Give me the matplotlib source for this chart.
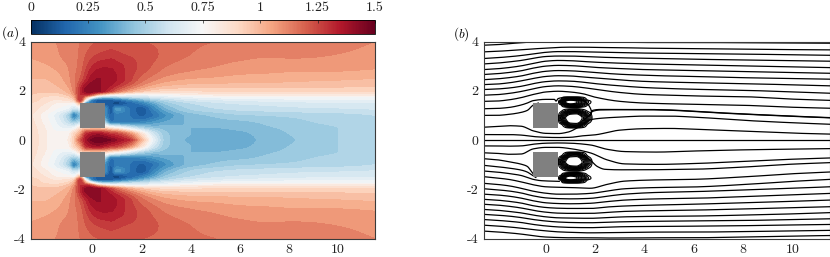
import numpy as np
import matplotlib
matplotlib.use("Agg")
import matplotlib.pyplot as plt
from matplotlib.cm import ScalarMappable
from matplotlib.colors import Normalize
from matplotlib.patches import Rectangle

plt.rcParams['font.family'] = ['cmr10', 'DejaVu Serif']
plt.rcParams['mathtext.fontset'] = 'cm'
plt.rcParams['axes.unicode_minus'] = False

# ---------- panel (a): mean speed read from the colour field (upper half, y >= 0) ----------
speed_x = [-2.5,-2,-1.5,-1,-.75,-.5,-.25,0,.25,.5,.75,1,1.5,2,2.5,3,4,5,6,7,8,10,11.5]
speed_y = [0,.25,.5,.75,1,1.25,1.5,1.6,1.75,1.85,2,2.5,3,3.5,4]
row_00 = [.9,.82,.76,.8,.95,1.2,1.38,1.47,1.5,1.48,1.45,1.4,1.3,1.0,.68,.47,.39,.38,.38,.41,.44,.5,.52]
row_25 = [.89,.82,.76,.78,.9,1.05,1.3,1.35,1.37,1.33,1.28,1.25,1.1,.85,.6,.46,.4,.39,.39,.42,.45,.5,.53]
row_50 = [.88,.81,.73,.68,.7,.85,.9,.9,.9,.88,.8,.75,.62,.5,.44,.42,.4,.4,.41,.44,.46,.5,.53]
row_75 = [.87,.79,.7,.55,.45,.5,.5,.5,.5,.45,.2,.22,.22,.24,.3,.35,.41,.43,.44,.46,.48,.52,.54]
row_100 = [.86,.78,.68,.5,.25,.4,.4,.4,.4,.3,.15,.22,.2,.14,.2,.3,.42,.46,.49,.5,.51,.53,.55]
row_125 = [.88,.82,.75,.68,.55,.6,.5,.4,.4,.3,.12,.32,.2,.12,.25,.38,.5,.54,.56,.57,.58,.59,.6]
row_150 = [.9,.86,.8,.78,.78,1.0,.3,.2,.12,.1,.1,.08,.16,.24,.36,.47,.55,.59,.61,.62,.63,.64,.64]
row_160 = [.92,.88,.84,.84,.92,1.25,.6,.2,.12,.12,.12,.14,.24,.34,.45,.52,.6,.63,.65,.66,.67,.68,.68]
row_175 = [.94,.9,.88,.92,1.02,1.3,1.05,.75,.55,.48,.48,.5,.55,.58,.62,.66,.7,.73,.74,.75,.75,.75,.75]
row_185 = [.95,.93,.92,.97,1.07,1.3,1.3,1.2,1.0,.9,.82,.78,.74,.72,.74,.76,.8,.82,.83,.83,.83,.83,.83]
row_200 = [.97,.96,.97,1.02,1.12,1.3,1.42,1.44,1.42,1.35,1.27,1.18,1.05,.97,.92,.9,.9,.91,.91,.91,.91,.91,.91]
row_250 = [1.0,1.0,1.02,1.08,1.14,1.2,1.3,1.38,1.4,1.4,1.38,1.35,1.27,1.18,1.12,1.08,1.05,1.04,1.03,1.03,1.02,1.01,1.0]
row_300 = [1.03,1.04,1.06,1.1,1.13,1.17,1.24,1.3,1.33,1.34,1.34,1.32,1.28,1.23,1.19,1.15,1.12,1.1,1.08,1.07,1.07,1.07,1.06]
row_350 = [1.06,1.07,1.09,1.12,1.13,1.16,1.2,1.23,1.25,1.26,1.27,1.26,1.24,1.23,1.21,1.18,1.15,1.13,1.12,1.11,1.11,1.1,1.09]
row_400 = [1.08,1.08,1.1,1.12,1.13,1.15,1.17,1.19,1.2,1.21,1.21,1.21,1.2,1.2,1.19,1.18,1.16,1.15,1.14,1.13,1.12,1.11,1.1]
speed_rows = [row_00,row_25,row_50,row_75,row_100,row_125,row_150,row_160,row_175,row_185,row_200,row_250,row_300,row_350,row_400]

cbar_ticks = [0,.25,.5,.75,1,1.25,1.5]
cbar_labels = ['0','0.25','0.5','0.75','1','1.25','1.5']
x_ticks = [0,2,4,6,8,10]
y_ticks = [-4,-2,0,2,4]
y_tick_labels = ['-4','-2','0','2','4']
block_centres = [1.0,-1.0]

# ---------- panel (b): streamlines ----------
line_x = [-2.5,-2,-1.5,-1,-.5,0,.5,1,1.5,2,3,4,5,6,8,10,11.5]
upper_lines = [
 [3.85,3.87,3.91,3.95,3.98,3.99,3.99,3.98,3.97,3.97,3.97,3.96,3.96,3.96,3.95,3.94,3.93],
 [3.58,3.6,3.63,3.66,3.7,3.73,3.76,3.77,3.77,3.76,3.75,3.73,3.72,3.71,3.69,3.67,3.66],
 [3.31,3.34,3.38,3.43,3.5,3.56,3.59,3.59,3.58,3.57,3.55,3.53,3.52,3.51,3.49,3.46,3.44],
 [3.09,3.12,3.17,3.23,3.32,3.39,3.41,3.41,3.39,3.37,3.34,3.32,3.3,3.28,3.25,3.22,3.2],
 [2.86,2.89,2.94,3.01,3.11,3.2,3.23,3.22,3.19,3.16,3.12,3.09,3.07,3.05,3.01,2.97,2.94],
 [2.66,2.69,2.74,2.81,2.92,3.0,3.03,3.02,2.99,2.95,2.9,2.86,2.84,2.82,2.78,2.74,2.71],
 [2.45,2.48,2.53,2.6,2.71,2.79,2.82,2.81,2.78,2.74,2.67,2.63,2.6,2.58,2.53,2.5,2.47],
 [2.25,2.27,2.32,2.4,2.5,2.58,2.61,2.6,2.56,2.52,2.44,2.38,2.35,2.33,2.29,2.24,2.2],
 [2.05,2.07,2.11,2.18,2.29,2.37,2.4,2.39,2.35,2.29,2.2,2.13,2.09,2.06,2.02,1.95,1.9],
 [1.82,1.84,1.89,1.97,2.08,2.17,2.2,2.18,2.13,2.06,1.93,1.85,1.82,1.79,1.76,1.66,1.61],
 [1.57,1.58,1.63,1.72,1.85,1.95,1.98,1.95,1.88,1.74,1.57,1.5,1.47,1.45,1.41,1.33,1.29],
 [.22,.22,.22,.2,.14,.11,.1,.11,.17,.21,.4,.46,.47,.44,.36,.28,.24],
]
lower_x = [-2.5,-2,-1.5,-1,-.5,0,.5,1,1.8,2.5,3.2,4.5,5.9,8,10,11.5]
lower_lines = [
 [-.24,-.24,-.25,-.24,-.17,-.13,-.12,-.13,-.2,-.38,-.47,-.49,-.45,-.4,-.37,-.35],
 [-.52,-.54,-.58,-.57,-.36,-.3,-.3,-.35,-.52,-.81,-.97,-.99,-.96,-.87,-.78,-.73],
 [-1.49,-1.54,-1.6,-1.7,-1.82,-1.9,-1.92,-1.93,-1.96,-1.8,-1.67,-1.62,-1.6,-1.5,-1.37,-1.3],
 [-1.76,-1.8,-1.86,-1.96,-2.08,-2.16,-2.2,-2.2,-2.17,-2.07,-1.98,-1.93,-1.91,-1.81,-1.68,-1.6],
 [-1.98,-2.02,-2.07,-2.15,-2.27,-2.35,-2.38,-2.39,-2.37,-2.28,-2.2,-2.13,-2.1,-2.03,-1.96,-1.9],
 [-2.2,-2.23,-2.28,-2.36,-2.47,-2.55,-2.58,-2.59,-2.57,-2.5,-2.44,-2.39,-2.37,-2.3,-2.22,-2.17],
 [-2.41,-2.44,-2.49,-2.56,-2.67,-2.74,-2.77,-2.78,-2.78,-2.72,-2.68,-2.64,-2.61,-2.55,-2.49,-2.44],
 [-2.61,-2.64,-2.69,-2.76,-2.86,-2.93,-2.97,-2.98,-2.98,-2.94,-2.9,-2.87,-2.85,-2.8,-2.75,-2.71],
 [-2.82,-2.85,-2.9,-2.96,-3.05,-3.12,-3.16,-3.17,-3.18,-3.15,-3.12,-3.1,-3.09,-3.05,-3.0,-2.95],
 [-3.02,-3.05,-3.09,-3.15,-3.23,-3.29,-3.33,-3.35,-3.36,-3.34,-3.32,-3.3,-3.29,-3.27,-3.23,-3.2],
 [-3.23,-3.26,-3.3,-3.35,-3.43,-3.49,-3.53,-3.55,-3.56,-3.54,-3.52,-3.51,-3.5,-3.48,-3.45,-3.43],
 [-3.46,-3.49,-3.53,-3.58,-3.64,-3.69,-3.73,-3.75,-3.77,-3.76,-3.75,-3.74,-3.74,-3.72,-3.69,-3.67],
 [-3.7,-3.73,-3.77,-3.82,-3.89,-3.94,-3.96,-3.97,-3.97,-3.98,-3.98,-3.97,-3.97,-3.94,-3.9,-3.88],
]
centre_x = [-2.5,11.5]
centre_y = [0,0]

# lines that do not span the full width: (x, y) read point by point
top_sep_x = [-2.5,-2,-1.5,-1,-.75,-.5,0,.35,.42,.5,.8,1.2,1.6,1.78,1.85,1.8,1.9,2.2,3,4,5,6,7,8,10,11.5]
top_sep_y = [1.27,1.28,1.32,1.42,1.5,1.6,1.65,1.65,1.58,1.68,1.73,1.7,1.55,1.35,1.15,1.0,1.2,1.24,1.24,1.24,1.22,1.17,1.11,1.06,.97,.91]
wake2_x = [1.5,1.75,1.9,2.2,3,4,5,6,7,8,10,11.5]
wake2_y = [.78,.98,1.16,1.22,1.23,1.23,1.21,1.16,1.1,1.05,.96,.9]
upper_in_x = [-2.5,-2,-1.5,-1,-.75,-.5,-.3]
upper_in_y = [1.0,1.0,1.04,1.12,1.2,1.42,1.5]
upper_mid_x = [-2.5,-2,-1.5,-1,-.5,0,.5,.9,1.2,1.5,1.8,2.2,3,4,5,6,8,10,11.5]
upper_mid_y = [.52,.55,.58,.56,.37,.27,.26,.32,.45,.65,.82,.88,.93,.97,.97,.93,.8,.7,.64]
lower_c1_x = [-2.5,-2,-1.5,-1,-.75,-.6,-.45]
lower_c1_y = [-.76,-.8,-.88,-.98,-1.07,-1.25,-1.45]
lower_c2_x = [-2.5,-2,-1.5,-1,-.75,-.55,-.4]
lower_c2_y = [-1.03,-1.08,-1.14,-1.22,-1.3,-1.43,-1.52]
lower_c3_x = [-2.5,-2,-1.5,-1,-.75,-.5,-.2,.2,.55]
lower_c3_y = [-1.26,-1.3,-1.36,-1.44,-1.52,-1.6,-1.65,-1.67,-1.68]
lower_out_x = [1.2,1.5,1.8,2.1,2.4,3,4,5,5.9,8,10,11.5]
lower_out_y = [-.55,-.62,-.81,-1.08,-1.19,-1.21,-1.21,-1.2,-1.19,-1.1,-.98,-.92]

# recirculation bubble: stream-function table read from the closed loops
bub_x = [.5,.6,.75,1,1.25,1.5,1.75,1.9]
bub_y = [.48,.6,.75,.9,1.05,1.2,1.3,1.4,1.55,1.65,1.76]
bub_rows = [
 [0,0,0,0,0,0,0,0],
 [0,0,.1,.5,.55,.2,0,0],
 [0,.15,.5,.86,.88,.6,.1,0],
 [0,.28,.66,.95,.98,.72,.28,0],
 [0,.12,.42,.74,.77,.5,.12,0],
 [0,.01,.08,.24,.28,.1,.01,0],
 [0,0,0,0,0,0,0,0],
 [0,.01,.18,.42,.42,.18,.01,0],
 [0,.2,.66,1.0,.78,.46,.1,0],
 [0,.02,.3,.55,.5,.2,0,0],
 [0,0,0,0,0,0,0,0],
]
bub_levels = [.04,.11,.19,.27,.35,.43,.51,.59,.67,.75]


def pchip(x, y, xi):
    x, y, xi = map(lambda a: np.asarray(a, float), (x, y, xi))
    h = np.diff(x); d = np.diff(y) / h
    m = np.zeros_like(y)
    m[0], m[-1] = d[0], d[-1]
    for k in range(1, len(y) - 1):
        if d[k-1] * d[k] > 0:
            w1 = 2*h[k] + h[k-1]; w2 = h[k] + 2*h[k-1]
            m[k] = (w1 + w2) / (w1/d[k-1] + w2/d[k])
    i = np.clip(np.searchsorted(x, xi) - 1, 0, len(h) - 1)
    t = (xi - x[i]) / h[i]
    return ((2*t**3-3*t**2+1)*y[i] + (t**3-2*t**2+t)*h[i]*m[i]
            + (-2*t**3+3*t**2)*y[i+1] + (t**3-t**2)*h[i]*m[i+1])


def grid_fine(xs, ys, rows, xf, yf):
    z = np.asarray(rows, float)
    a = np.array([pchip(xs, r, xf) for r in z])
    return np.array([pchip(ys, a[:, j], yf) for j in range(len(xf))]).T


def curve(x, y):
    x = np.asarray(x, float); y = np.asarray(y, float)
    t = np.r_[0, np.cumsum(np.hypot(np.diff(x), np.diff(y)))]
    tt = np.linspace(0, t[-1], 600)
    return pchip(t, x, tt), pchip(t, y, tt)


W, H = 830, 257
fig = plt.figure(figsize=(W/100, H/100), dpi=100)
def axpx(l, t, r, b):
    return fig.add_axes([l/W, 1-b/H, (r-l)/W, (b-t)/H])

edge = '#3a3a3a'
ax1 = axpx(31, 41.5, 375, 238.5)
ax2 = axpx(484, 41.5, 829.5, 238.5)
cax = axpx(30.5, 19.5, 375, 34)

# panel (a)
xf = np.linspace(-2.5, 11.5, 700)
yf = np.linspace(0, 4, 240)
Zu = grid_fine(speed_x, speed_y, speed_rows, xf, yf)
Y = np.r_[-yf[:0:-1], yf]
Z = np.vstack([Zu[:0:-1], Zu])
ax1.contourf(xf, Y, Z, levels=np.arange(0, 1.5501, .05), cmap='RdBu_r', vmin=0, vmax=1.5, extend='both')

# panel (b)
for ys in upper_lines:
    ax2.plot(*curve(line_x, ys), color='k', lw=.9)
for ys in lower_lines:
    ax2.plot(*curve(lower_x, ys), color='k', lw=.9)
ax2.plot(centre_x, centre_y, color='k', lw=.9)
for a, b in [(top_sep_x, top_sep_y), (wake2_x, wake2_y), (upper_in_x, upper_in_y), (upper_mid_x, upper_mid_y),
             (lower_c1_x, lower_c1_y), (lower_c2_x, lower_c2_y), (lower_c3_x, lower_c3_y), (lower_out_x, lower_out_y)]:
    ax2.plot(*curve(a, b), color='k', lw=.9)
bx = np.linspace(bub_x[0], bub_x[-1], 240)
by = np.linspace(bub_y[0], bub_y[-1], 240)
Bz = grid_fine(bub_x, bub_y, bub_rows, bx, by)
ax2.contour(bx, by, Bz, levels=bub_levels, colors='k', linewidths=.8)
ax2.contour(bx, -by, Bz, levels=bub_levels, colors='k', linewidths=.8)

for ax in (ax1, ax2):
    for c in block_centres:
        ax.add_patch(Rectangle((-.5, c-.5), 1, 1, fc='#808080', ec='none', zorder=5))
    ax.set_xlim(-2.5, 11.5); ax.set_ylim(-4, 4)
    ax.set_xticks(x_ticks); ax.set_xticklabels([str(v) for v in x_ticks])
    ax.set_yticks(y_ticks); ax.set_yticklabels(y_tick_labels)
    ax.tick_params(length=0, labelsize=10, pad=4, colors='#222222')
    for s in ax.spines.values():
        s.set_linewidth(.8); s.set_color(edge)

cb = fig.colorbar(ScalarMappable(Normalize(0, 1.5), 'RdBu_r'), cax=cax, orientation='horizontal')
cb.set_ticks(cbar_ticks); cb.set_ticklabels(cbar_labels)
cax.xaxis.set_ticks_position('top')
cax.tick_params(axis='x', direction='in', length=2.5, width=.5, labelsize=10, pad=4, colors='#222222')
cb.outline.set_linewidth(.6)

fig.text(1/W, 1-33/H, r'$\mathit{(a)}$', fontsize=9.5, va='center', ha='left')
fig.text(453/W, 1-34/H, r'$\mathit{(b)}$', fontsize=9.5, va='center', ha='left')
fig.savefig('out.png', dpi=100)
